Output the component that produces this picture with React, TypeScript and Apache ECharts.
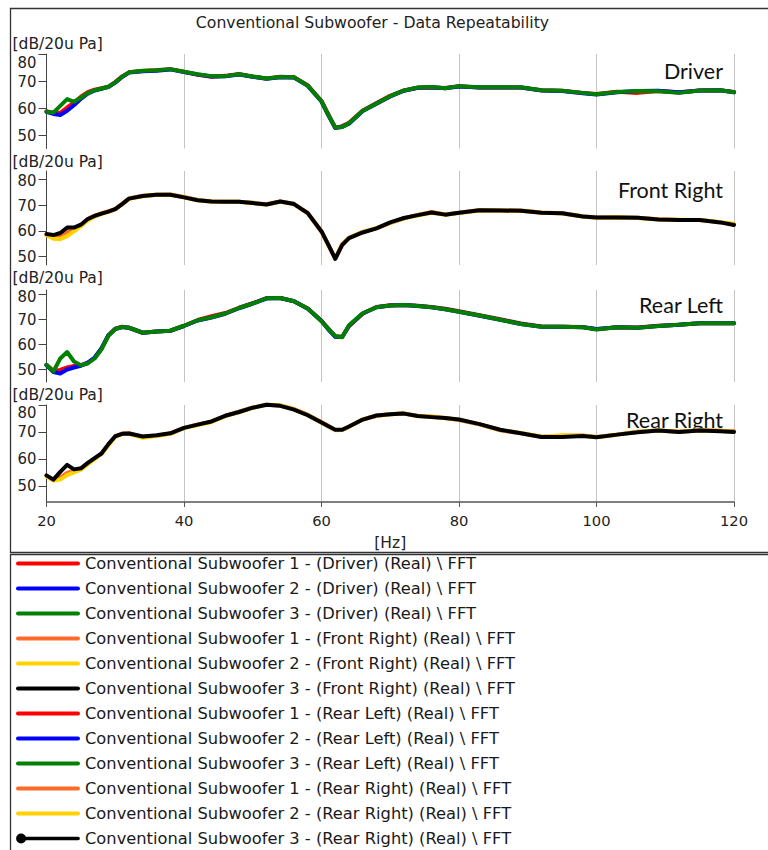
import React, { useEffect, useRef } from 'react';
import * as echarts from 'echarts';

// ---------- data ----------
const FREQ_HZ = [20, 21, 22, 23, 24, 25, 26, 27, 28, 29, 30, 31, 32, 34, 36, 38, 40, 42, 44, 46, 48, 50, 52, 54, 56, 58, 60, 61, 62, 63, 64, 66, 68, 70, 72, 74, 76, 78, 80, 83, 86, 89, 92, 95, 98, 100, 103, 106, 109, 112, 115, 118, 120];

const DRIVER_1 = [58.8, 58.2, 58.2, 60.2, 62.0, 64.2, 65.9, 66.8, 67.3, 67.9, 69.6, 71.7, 73.2, 73.7, 74.0, 74.4, 73.4, 72.3, 71.6, 71.9, 72.6, 71.6, 70.9, 71.6, 71.4, 68.4, 62.6, 57.6, 52.6, 53.3, 54.5, 59.1, 61.8, 64.5, 66.5, 67.5, 67.6, 67.4, 68.1, 67.6, 67.6, 67.6, 66.6, 66.4, 65.6, 65.2, 66.0, 65.6, 66.3, 65.7, 66.5, 66.6, 65.9];
const DRIVER_2 = [58.6, 57.8, 57.4, 59.0, 61.0, 63.4, 65.3, 66.5, 67.1, 67.8, 69.4, 71.5, 73.1, 73.6, 73.8, 74.3, 73.3, 72.4, 71.7, 71.8, 72.4, 71.6, 70.8, 71.4, 71.3, 68.2, 62.4, 57.3, 52.7, 53.0, 54.2, 58.9, 61.6, 64.3, 66.4, 67.5, 67.7, 67.3, 68.0, 67.6, 67.6, 67.6, 66.5, 66.3, 65.5, 65.0, 65.8, 66.3, 66.4, 65.8, 66.5, 66.6, 65.8];
const DRIVER_3 = [58.6, 58.3, 60.8, 63.3, 62.3, 63.8, 65.5, 66.6, 67.2, 67.8, 69.5, 71.6, 73.2, 73.8, 74.0, 74.4, 73.4, 72.5, 71.8, 71.8, 72.5, 71.7, 70.9, 71.5, 71.4, 68.3, 62.5, 57.4, 52.8, 53.0, 54.3, 59.0, 61.7, 64.4, 66.5, 67.6, 67.8, 67.3, 68.1, 67.7, 67.7, 67.7, 66.6, 66.4, 65.6, 65.1, 65.9, 66.3, 66.2, 65.6, 66.5, 66.6, 65.8];

const FRONT_1 = [58.5, 57.8, 58.0, 59.5, 60.8, 62.2, 64.5, 65.9, 66.8, 67.6, 68.5, 70.5, 72.6, 73.6, 74.0, 74.1, 73.1, 72.0, 71.4, 71.3, 71.3, 70.9, 70.3, 71.4, 70.5, 67.0, 59.9, 54.7, 49.3, 54.9, 57.3, 59.6, 61.1, 63.1, 64.9, 66.2, 67.3, 66.4, 67.0, 68.1, 68.0, 67.9, 67.1, 66.8, 65.7, 65.2, 65.3, 65.1, 64.5, 64.2, 64.2, 63.4, 62.5];
const FRONT_2 = [58.3, 57.0, 56.8, 58.0, 59.8, 61.8, 64.0, 65.5, 66.6, 67.4, 68.3, 70.3, 72.4, 73.4, 74.0, 74.0, 73.0, 71.9, 71.3, 71.3, 71.3, 70.8, 70.2, 71.3, 70.4, 66.8, 59.6, 54.3, 49.4, 54.6, 57.3, 59.6, 61.1, 63.1, 64.9, 66.0, 67.0, 66.3, 66.9, 67.9, 67.9, 67.8, 67.0, 66.7, 65.6, 65.0, 65.2, 65.0, 64.4, 64.3, 64.2, 63.4, 62.8];
const FRONT_3 = [58.8, 58.4, 59.2, 61.3, 61.3, 62.4, 64.6, 65.8, 66.7, 67.5, 68.4, 70.4, 72.5, 73.5, 74.0, 74.0, 73.0, 71.9, 71.4, 71.3, 71.3, 70.8, 70.2, 71.4, 70.4, 66.9, 59.8, 54.6, 49.2, 54.5, 57.2, 59.4, 61.0, 63.3, 65.0, 66.1, 67.1, 66.3, 67.0, 68.0, 67.9, 67.8, 67.0, 66.8, 65.6, 65.2, 65.2, 65.1, 64.4, 64.2, 64.2, 63.3, 62.3];

const REAR_LEFT_1 = [51.7, 49.3, 49.6, 50.6, 51.2, 51.5, 52.4, 54.4, 58.1, 63.4, 66.1, 66.9, 66.5, 64.5, 65.0, 65.3, 67.3, 69.6, 71.1, 72.4, 74.5, 76.3, 78.4, 78.4, 77.1, 74.2, 69.3, 66.2, 63.1, 62.9, 67.1, 72.2, 74.8, 75.5, 75.6, 75.3, 74.8, 74.1, 73.1, 71.5, 69.9, 68.2, 67.0, 66.9, 66.8, 65.9, 66.7, 66.6, 67.3, 67.7, 68.3, 68.3, 68.3];
const REAR_LEFT_2 = [51.5, 48.8, 48.2, 49.8, 50.6, 51.3, 52.6, 54.6, 58.3, 63.5, 66.0, 66.8, 66.5, 64.5, 65.0, 65.3, 67.2, 69.4, 70.6, 72.1, 74.3, 76.2, 78.2, 78.4, 77.1, 74.1, 69.2, 65.8, 62.9, 62.8, 67.3, 72.2, 74.7, 75.4, 75.6, 75.2, 74.7, 73.9, 72.9, 71.3, 69.7, 68.0, 66.9, 66.9, 66.7, 66.0, 66.7, 66.5, 67.2, 67.7, 68.3, 68.3, 68.3];
const REAR_LEFT_3 = [51.7, 49.0, 54.2, 56.8, 53.0, 51.5, 52.2, 54.2, 57.9, 63.3, 66.0, 66.8, 66.5, 64.5, 65.0, 65.3, 67.3, 69.5, 70.7, 72.2, 74.4, 76.2, 78.3, 78.4, 77.1, 74.2, 69.1, 66.0, 63.2, 62.7, 67.5, 72.3, 74.7, 75.4, 75.6, 75.2, 74.7, 73.9, 72.9, 71.4, 69.7, 68.0, 66.9, 66.9, 66.7, 65.8, 66.7, 66.5, 67.2, 67.7, 68.3, 68.3, 68.3];

const REAR_RIGHT_1 = [53.7, 52.2, 53.0, 54.8, 55.6, 56.3, 58.3, 60.1, 62.0, 65.1, 68.4, 69.4, 69.5, 68.2, 68.6, 69.4, 71.5, 72.8, 73.8, 76.0, 77.5, 79.1, 80.1, 79.8, 78.5, 76.4, 73.7, 72.3, 70.7, 70.7, 71.9, 74.6, 76.0, 76.6, 76.9, 75.9, 75.7, 75.2, 74.4, 72.8, 70.6, 69.5, 68.2, 68.6, 68.7, 68.1, 69.0, 70.1, 70.5, 70.1, 70.6, 70.4, 70.3];
const REAR_RIGHT_2 = [53.5, 52.0, 52.3, 54.0, 55.0, 56.0, 58.0, 59.9, 61.9, 65.0, 68.2, 69.2, 69.3, 67.8, 68.5, 69.3, 71.4, 72.6, 73.7, 75.9, 77.3, 79.0, 80.1, 79.8, 78.4, 76.2, 73.4, 72.0, 70.6, 70.7, 71.9, 74.6, 76.0, 76.6, 76.8, 75.9, 75.6, 75.1, 74.5, 72.8, 70.7, 69.6, 68.2, 68.8, 68.6, 68.1, 69.0, 70.1, 70.5, 70.1, 70.5, 70.4, 70.1];
const REAR_RIGHT_3 = [53.9, 52.3, 55.2, 57.8, 56.1, 56.5, 58.5, 60.3, 62.0, 65.5, 68.4, 69.3, 69.4, 68.3, 68.8, 69.5, 71.5, 72.7, 73.9, 76.0, 77.4, 79.0, 80.1, 79.7, 78.3, 76.2, 73.5, 72.1, 70.8, 70.8, 72.0, 74.6, 76.1, 76.6, 76.8, 75.9, 75.5, 75.2, 74.6, 72.9, 70.8, 69.5, 68.1, 68.1, 68.5, 68.0, 69.0, 69.9, 70.5, 70.0, 70.5, 70.3, 70.0];

const CHANNELS = ['Driver', 'Front Right', 'Rear Left', 'Rear Right'];
const Y_TICKS = [50, 60, 70, 80];
const TITLE = 'Conventional Subwoofer - Data Repeatability';
const Y_UNIT = '[dB/20u Pa]';
const X_UNIT = '[Hz]';
const COLORS_A = ['#ff0000', '#0000ff', '#008000'];
const COLORS_B = ['#ff6c2a', '#ffd200', '#000000'];

const SANS = "'DejaVu Sans', Verdana, sans-serif";
const NARROW = "'Liberation Sans Narrow', 'Arial Narrow', 'DejaVu Sans Condensed', 'DejaVu Sans', sans-serif";
const LABEL_FONT = "Lato, 'Open Sans', sans-serif";

const LINE_ICON = 'path://M2,0h59a2,2 0 0 1 0,4h-59a2,2 0 0 1 0,-4z';
const DOT_ICON = 'path://M0,5a5,5 0 1,1 10,0a5,5 0 1,1 -10,0z M5,3.2h57a1.8,1.8 0 0 1 0,3.6h-57z';

export default function App() {
  const ref = useRef<HTMLDivElement>(null);

  useEffect(() => {
    if (!ref.current) return;
    const chart = echarts.init(ref.current, undefined, { renderer: 'svg' });

    const panels = [
      { top: 54, height: 94.5, min: 45, max: 80, colors: COLORS_A, data: [DRIVER_1, DRIVER_2, DRIVER_3], topShift: 16, unitY: 44, labelY: 71 },
      { top: 171, height: 94, min: 46.8, max: 83.2, colors: COLORS_B, data: [FRONT_1, FRONT_2, FRONT_3], topShift: 3, unitY: 162, labelY: 190 },
      { top: 290, height: 92, min: 44.8, max: 81.6, colors: COLORS_A, data: [REAR_LEFT_1, REAR_LEFT_2, REAR_LEFT_3], topShift: 5, unitY: 277.5, labelY: 305 },
      { top: 405, height: 97, min: 44, max: 80, colors: COLORS_B, data: [REAR_RIGHT_1, REAR_RIGHT_2, REAR_RIGHT_3], topShift: 15, unitY: 395, labelY: 420 },
    ];
    const left = 46.5;
    const width = 687.5;

    const grids = panels.map((p) => ({ left, width, top: p.top, height: p.height }));

    const xAxes = panels.map((p, i) => {
      const last = i === panels.length - 1;
      return {
        type: 'value',
        gridIndex: i,
        min: 20,
        max: 120,
        interval: 20,
        axisLine: { show: last, onZero: false, lineStyle: { color: '#555', width: 1.5 } },
        axisTick: { show: last, length: 5, lineStyle: { color: '#555', width: 1 } },
        axisLabel: { show: last, fontFamily: SANS, fontSize: 14.7, color: '#222', margin: 11 },
        splitLine: { show: true, lineStyle: { color: '#c4c4c4', width: 1 } },
        name: last ? X_UNIT : '',
        nameLocation: 'middle',
        nameGap: 33,
        nameTextStyle: { fontFamily: SANS, fontSize: 15.5, color: '#222' },
      };
    });

    const yAxes = panels.map((p, i) => ({
      type: 'value',
      gridIndex: i,
      min: p.min,
      max: p.max,
      axisLine: { show: true, onZero: false, lineStyle: { color: '#444', width: 1 } },
      axisTick: { show: true, length: 8, customValues: Y_TICKS, lineStyle: { color: '#444', width: 1 } },
      axisLabel: {
        show: true,
        customValues: Y_TICKS,
        margin: 10,
        fontFamily: NARROW,
        fontSize: 16.5,
        color: '#222',
        formatter: (v: number) => (v === 80 ? '{lo|80}' : String(v)),
        rich: { lo: { padding: [p.topShift, 0, 0, 0], fontFamily: NARROW, fontSize: 16.5, color: '#222' } },
      },
      splitLine: { show: false },
    }));

    const series: any[] = [];
    const legendData: any[] = [];
    panels.forEach((p, i) => {
      p.data.forEach((vals, k) => {
        const name = `Conventional Subwoofer ${k + 1} - (${CHANNELS[i]}) (Real) \\ FFT`;
        series.push({
          type: 'line',
          name,
          xAxisIndex: i,
          yAxisIndex: i,
          data: FREQ_HZ.map((f, j) => [f, vals[j]]),
          symbol: 'none',
          showSymbol: false,
          clip: false,
          silent: true,
          color: p.colors[k],
          itemStyle: { color: p.colors[k] },
          lineStyle: { width: 4, color: p.colors[k], cap: 'round', join: 'round' },
        });
        legendData.push({ name, icon: i === 3 && k === 2 ? DOT_ICON : LINE_ICON });
      });
    });

    const graphic: any[] = [
      { type: 'rect', shape: { x: 10.5, y: 8.5, width: 770, height: 544 }, style: { fill: 'none', stroke: '#333', lineWidth: 1.3 }, silent: true },
      { type: 'rect', shape: { x: 10.5, y: 554.5, width: 770, height: 320 }, style: { fill: 'none', stroke: '#333', lineWidth: 1.3 }, silent: true },
      { type: 'text', x: 372.5, y: 22, style: { text: TITLE, fontFamily: SANS, fontSize: 15.7, fill: '#222', align: 'center', verticalAlign: 'middle', textAlign: 'center', textVerticalAlign: 'middle' }, silent: true },
    ];
    panels.forEach((p, i) => {
      graphic.push({ type: 'text', x: 12.5, y: p.unitY, style: { text: Y_UNIT, fontFamily: SANS, fontSize: 15.5, fill: '#222', align: 'left', verticalAlign: 'middle', textAlign: 'left', textVerticalAlign: 'middle' }, silent: true });
      graphic.push({ type: 'text', x: 723, y: p.labelY, style: { text: CHANNELS[i], fontFamily: LABEL_FONT, fontSize: 21.5, fill: '#111', align: 'right', verticalAlign: 'middle', textAlign: 'right', textVerticalAlign: 'middle' }, silent: true });
    });

    chart.setOption({
      animation: false,
      backgroundColor: '#ffffff',
      grid: grids,
      xAxis: xAxes,
      yAxis: yAxes,
      series,
      legend: {
        orient: 'vertical',
        left: 16,
        top: 553.5,
        height: 330,
        padding: 0,
        itemGap: 5,
        itemWidth: 64,
        itemHeight: 10,
        selectedMode: false,
        symbolKeepAspect: true,
        itemStyle: { borderWidth: 0 },
        textStyle: { fontFamily: SANS, fontSize: 16.3, color: '#1a1a1a', lineHeight: 20 },
        data: legendData,
      },
      graphic,
    });

    return () => chart.dispose();
  }, []);

  return (
    <div
      ref={ref}
      style={{ position: 'fixed', left: 0, top: 0, width: 768, height: 850, background: '#fff' }}
    />
  );
}
